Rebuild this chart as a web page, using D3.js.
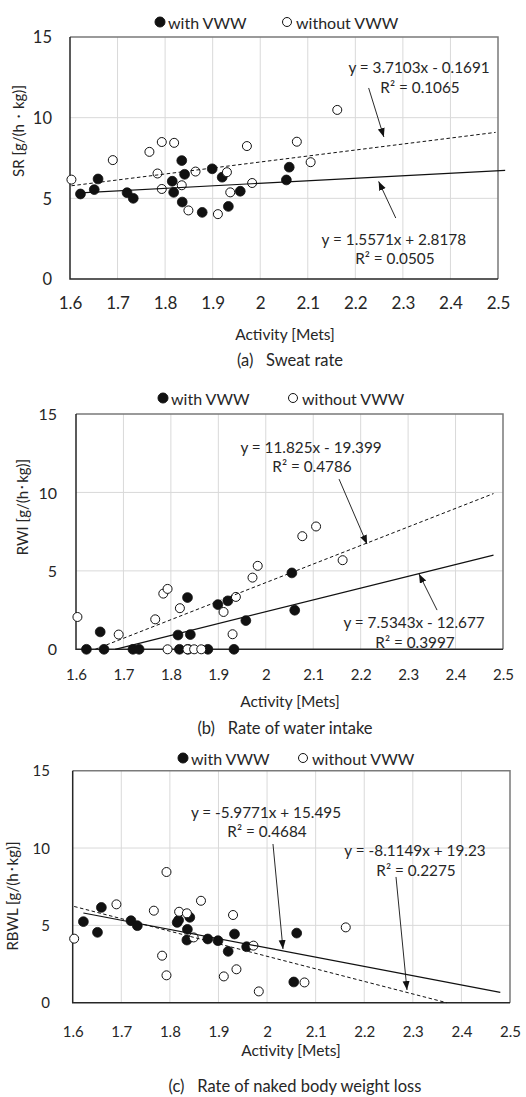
<!DOCTYPE html>
<html>
<head>
<meta charset="utf-8">
<script src="https://cdn.jsdelivr.net/npm/d3@7"></script>
<style>
  body { margin: 0; background: #fff; }
  svg text { font-family: Lato, "Noto Sans", sans-serif; fill: #262626; }
</style>
</head>
<body>
<svg id="fig" width="526" height="1097"></svg>
<script>
// Activity level of each subject (Mets), one entry per subject in each group
const activityWith    = [1.622, 1.651, 1.659, 1.720, 1.733, 1.815, 1.818, 1.835, 1.836, 1.841, 1.878, 1.899, 1.920, 1.933, 1.958, 2.055, 2.061];
const activityWithout = [1.603, 1.690, 1.767, 1.784, 1.793, 1.793, 1.819, 1.835, 1.849, 1.864, 1.911, 1.930, 1.937, 1.972, 1.983, 2.077, 2.106, 2.162];

// Sweat rate SR [g/(h·kg)]
const srWith    = [5.27, 5.54, 6.20, 5.35, 5.00, 6.06, 5.37, 7.34, 4.77, 6.49, 4.13, 6.83, 6.31, 4.50, 5.44, 6.14, 6.93];
const srWithout = [6.16, 7.37, 7.88, 6.54, 8.49, 5.58, 8.44, 5.81, 4.25, 6.66, 4.02, 6.62, 5.37, 8.24, 5.95, 8.51, 7.24, 10.48];

// Rate of water intake RWI [g/(h·kg)]
const rwiWith    = [0, 1.11, 0, 0, 0, 0.91, 0, 3.30, 0, 0.94, 0, 2.85, 3.09, 0, 1.83, 4.87, 2.49];
const rwiWithout = [2.06, 0.94, 1.91, 3.55, 0, 3.85, 2.62, 0, 0, 0, 2.38, 0.96, 3.34, 4.57, 5.32, 7.21, 7.83, 5.68];

// Rate of naked body weight loss RBWL [g/(h·kg)] (null: below the axis range)
const rbwlWith    = [5.24, 4.55, 6.16, 5.30, 4.98, 5.19, 5.34, 4.05, 4.74, 5.52, 4.12, 4.01, 3.32, 4.44, 3.62, 1.34, 4.50];
const rbwlWithout = [4.14, 6.36, 5.95, 3.04, 8.45, 1.77, 5.88, 5.78, 4.22, 6.59, 1.70, 5.67, 2.16, 3.69, 0.73, 1.31, null, 4.87];

// Linear fits [slope, intercept] and their R²
const srFitWith      = [1.5571, 2.8178];
const srFitWithout   = [3.7103, -0.1691];
const rwiFitWith     = [7.5343, -12.677];
const rwiFitWithout  = [11.825, -19.399];
const rbwlFitWith    = [-5.9771, 15.495];
const rbwlFitWithout = [-8.1149, 19.23];

const srR2   = ["0.0505", "0.1065"];
const rwiR2  = ["0.3997", "0.4786"];
const rbwlR2 = ["0.4684", "0.2275"];

// Axis ticks
const xTicks = [1.6, 1.7, 1.8, 1.9, 2.0, 2.1, 2.2, 2.3, 2.4, 2.5];
const yTicks = [0, 5, 10, 15];

const seriesNames = ["with VWW", "without VWW"];

function fitText(fit) {
  const m = fit[0], b = fit[1];
  return "y = " + m + "x " + (b < 0 ? "- " : "+ ") + Math.abs(b);
}

const panels = [
  {
    yLabel: "SR [g/(h\u30FBkg)]", caption: "(a)   Sweat rate",
    yWith: srWith, yWithout: srWithout, fitWith: srFitWith, fitWithout: srFitWithout, r2: srR2,
    box: { l: 70, r: 498, t: 37, b: 279 },
    legendY: 22, legendX: [160, 287],
    xTickY: 303.5, xTickSize: 17, yTickX: 52, yTickSize: 16.5,
    yLabelPos: [18, 131], xLabelPos: [285, 333.5], captionPos: [290, 360],
    endWith: 2.515, endWithout: 2.495,
    // annotation placement in data units: [label x, label y, arrow start x, y, arrow tip x, y]
    noteWith:    [2.281, 2.48, 2.285, 3.78, 2.249, 6.05],
    noteWithout: [2.334, 13.14, 2.228, 11.84, 2.260, 8.80]
  },
  {
    yLabel: "RWI [g/(h\uFF65kg)]", caption: "(b)   Rate of water intake",
    yWith: rwiWith, yWithout: rwiWithout, fitWith: rwiFitWith, fitWithout: rwiFitWithout, r2: rwiR2,
    box: { l: 76, r: 503, t: 414, b: 649.3 },
    legendY: 398, legendX: [163, 293],
    xTickY: 675, xTickSize: 15, yTickX: 57, yTickSize: 16,
    yLabelPos: [22, 507], xLabelPos: [290, 701], captionPos: [285, 728],
    endWith: 2.48, endWithout: 2.48,
    noteWith:    [2.3125, 1.74, 2.361, 2.50, 2.323, 4.80],
    noteWithout: [2.0954, 12.90, 2.1544, 10.85, 2.2134, 6.71]
  },
  {
    yLabel: "RBWL [g/(h\uFF65kg)]", caption: "(c)   Rate of naked body weight loss",
    yWith: rbwlWith, yWithout: rbwlWithout, fitWith: rbwlFitWith, fitWithout: rbwlFitWithout, r2: rbwlR2,
    box: { l: 72.7, r: 510, t: 770.7, b: 1002.7 },
    legendY: 758, legendX: [183, 303],
    xTickY: 1032, xTickSize: 15, yTickX: 50, yTickSize: 15,
    yLabelPos: [12, 896], xLabelPos: [291, 1050], captionPos: [295, 1085.5],
    endWith: 2.48, endWithout: 2.48,
    noteWith:    [1.9978, 12.33, 2.0122, 10.26, 2.0328, 3.47],
    noteWithout: [2.3045, 9.87, 2.2654, 8.13, 2.288, 0.82]
  }
];

const svg = d3.select("#fig");

svg.append("defs").append("marker")
  .attr("id", "arrowhead")
  .attr("markerUnits", "userSpaceOnUse")
  .attr("markerWidth", 10).attr("markerHeight", 8)
  .attr("refX", 9).attr("refY", 3.5)
  .attr("orient", "auto")
  .append("path").attr("d", "M0,0 L9,3.5 L0,7 Z").attr("fill", "#111");

const R = 4.9;

panels.forEach(p => {
  const g = svg.append("g");
  const x = d3.scaleLinear().domain([1.6, 2.5]).range([p.box.l, p.box.r]);
  const y = d3.scaleLinear().domain([0, 15]).range([p.box.b, p.box.t]);

  // grid
  g.append("g").selectAll("line").data(xTicks.slice(1, -1)).join("line")
    .attr("x1", d => x(d)).attr("x2", d => x(d))
    .attr("y1", y(0)).attr("y2", y(15))
    .attr("stroke", "#d9d9d9").attr("stroke-width", 1);
  g.append("g").selectAll("line").data(yTicks.slice(1, -1)).join("line")
    .attr("x1", x(1.6)).attr("x2", x(2.5))
    .attr("y1", d => y(d)).attr("y2", d => y(d))
    .attr("stroke", "#d9d9d9").attr("stroke-width", 1);

  // frame: top/right border and dark axes
  g.append("path")
    .attr("d", `M${x(1.6)},${y(15)}H${x(2.5)}V${y(0)}`)
    .attr("fill", "none").attr("stroke", "#7a7a7a").attr("stroke-width", 1.5);
  g.append("path")
    .attr("d", `M${x(1.6)},${y(15)}V${y(0)}H${x(2.5)}`)
    .attr("fill", "none").attr("stroke", "#262626").attr("stroke-width", 1.5);

  // tick labels via d3 axes
  const xAxis = g.append("g").attr("transform", `translate(0,${y(0)})`)
    .call(d3.axisBottom(x).tickValues(xTicks).tickSize(0).tickFormat(d => String(+d.toFixed(1))));
  xAxis.select(".domain").remove();
  xAxis.selectAll("text")
    .attr("y", p.xTickY - y(0)).attr("dy", "0.35em")
    .style("font-size", p.xTickSize + "px").style("font-family", "Lato").attr("fill", "#262626");

  const yAxis = g.append("g").attr("transform", `translate(${p.yTickX},0)`)
    .call(d3.axisLeft(y).tickValues(yTicks).tickSize(0).tickPadding(0));
  yAxis.select(".domain").remove();
  yAxis.selectAll("text")
    .attr("x", 0).attr("dy", "0.35em")
    .style("font-size", p.yTickSize + "px").style("font-family", "Lato").attr("fill", "#262626");

  // axis titles and caption
  g.append("text").text(p.yLabel)
    .attr("transform", `translate(${p.yLabelPos[0]},${p.yLabelPos[1]}) rotate(-90)`)
    .attr("text-anchor", "middle").attr("dominant-baseline", "central")
    .style("font-size", "15px");
  g.append("text").text("Activity [Mets]")
    .attr("x", p.xLabelPos[0]).attr("y", p.xLabelPos[1])
    .attr("text-anchor", "middle").attr("dominant-baseline", "central")
    .style("font-size", "15.5px");
  g.append("text").text(p.caption)
    .attr("x", p.captionPos[0]).attr("y", p.captionPos[1])
    .attr("text-anchor", "middle").attr("dominant-baseline", "central")
    .style("white-space", "pre")
    .style("font-size", "16.5px");

  // legend
  seriesNames.forEach((name, i) => {
    const cx = p.legendX[i];
    g.append("circle").attr("cx", cx).attr("cy", p.legendY).attr("r", i === 0 ? 5 : 4.5)
      .attr("fill", i === 0 ? "#111" : "#fff").attr("stroke", "#111").attr("stroke-width", 1);
    g.append("text").text(name)
      .attr("x", cx + (i === 0 ? 8 : 9)).attr("y", p.legendY)
      .attr("dominant-baseline", "central").style("font-size", "16px");
  });

  // points
  const ptsWith = activityWith.map((a, i) => ({ x: a, y: p.yWith[i] })).filter(d => d.y !== null);
  const ptsWithout = activityWithout.map((a, i) => ({ x: a, y: p.yWithout[i] })).filter(d => d.y !== null);

  g.append("g").selectAll("circle").data(ptsWith).join("circle")
    .attr("cx", d => x(d.x)).attr("cy", d => y(d.y)).attr("r", R)
    .attr("fill", "#111").attr("stroke", "#111").attr("stroke-width", 0.8);
  g.append("g").selectAll("circle").data(ptsWithout).join("circle")
    .attr("cx", d => x(d.x)).attr("cy", d => y(d.y)).attr("r", R - 0.4)
    .attr("fill", "#fff").attr("stroke", "#111").attr("stroke-width", 1);

  // trend lines, limited to y >= 0
  function trend(fit, x0, x1, dashed) {
    const m = fit[0], b = fit[1];
    const xz = -b / m;
    if (m > 0) x0 = Math.max(x0, xz); else x1 = Math.min(x1, xz);
    g.append("line")
      .attr("x1", x(x0)).attr("y1", y(m * x0 + b))
      .attr("x2", x(x1)).attr("y2", y(m * x1 + b))
      .attr("stroke", "#111").attr("stroke-width", dashed ? 1 : 1.2)
      .attr("stroke-dasharray", dashed ? "3.5,2.5" : null);
  }
  trend(p.fitWith, d3.min(activityWith), p.endWith, false);
  trend(p.fitWithout, d3.min(activityWithout), p.endWithout, true);

  // equation labels with arrows
  function note(n, fit, r2) {
    g.append("text").text(fitText(fit))
      .attr("x", x(n[0])).attr("y", y(n[1]))
      .attr("text-anchor", "middle").attr("dominant-baseline", "central")
      .style("font-size", "15.3px");
    g.append("text").text("R\u00B2 = " + r2)
      .attr("x", x(n[0]) + 1).attr("y", y(n[1]) + 19.5)
      .attr("text-anchor", "middle").attr("dominant-baseline", "central")
      .style("font-size", "15.3px");
    g.append("line")
      .attr("x1", x(n[2])).attr("y1", y(n[3]))
      .attr("x2", x(n[4])).attr("y2", y(n[5]))
      .attr("stroke", "#111").attr("stroke-width", 0.9)
      .attr("marker-end", "url(#arrowhead)");
  }
  note(p.noteWith, p.fitWith, p.r2[0]);
  note(p.noteWithout, p.fitWithout, p.r2[1]);
});
</script>
</body>
</html>
